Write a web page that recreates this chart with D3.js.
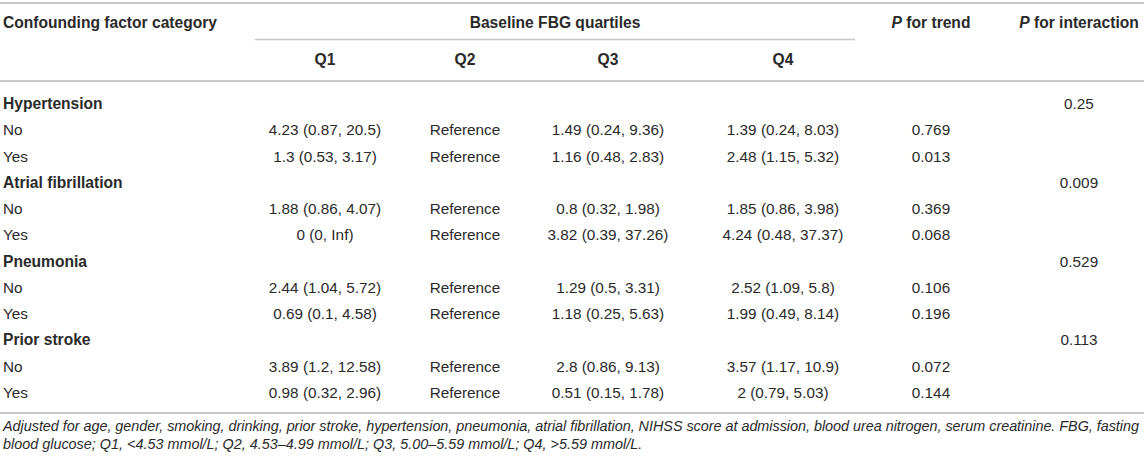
<!DOCTYPE html>
<html>
<head>
<meta charset="utf-8">
<script src="https://cdn.jsdelivr.net/npm/d3@7"></script>
<style>
  html, body { margin: 0; padding: 0; background: #fff; }
  svg text { font-family: "Liberation Sans", Arial, Helvetica, sans-serif; fill: #2a2a2a; }
</style>
</head>
<body>
<div id="table"></div>
<script>
// table data, one array per column
const groups = ["Hypertension", "Atrial fibrillation", "Pneumonia", "Prior stroke"];
const pInteraction = ["0.25", "0.009", "0.529", "0.113"];
const levels = ["No", "Yes"];
const q1 = [
  "4.23 (0.87, 20.5)", "1.3 (0.53, 3.17)",
  "1.88 (0.86, 4.07)", "0 (0, Inf)",
  "2.44 (1.04, 5.72)", "0.69 (0.1, 4.58)",
  "3.89 (1.2, 12.58)", "0.98 (0.32, 2.96)"
];
const q2 = ["Reference", "Reference", "Reference", "Reference", "Reference", "Reference", "Reference", "Reference"];
const q3 = [
  "1.49 (0.24, 9.36)", "1.16 (0.48, 2.83)",
  "0.8 (0.32, 1.98)", "3.82 (0.39, 37.26)",
  "1.29 (0.5, 3.31)", "1.18 (0.25, 5.63)",
  "2.8 (0.86, 9.13)", "0.51 (0.15, 1.78)"
];
const q4 = [
  "1.39 (0.24, 8.03)", "2.48 (1.15, 5.32)",
  "1.85 (0.86, 3.98)", "4.24 (0.48, 37.37)",
  "2.52 (1.09, 5.8)", "1.99 (0.49, 8.14)",
  "3.57 (1.17, 10.9)", "2 (0.79, 5.03)"
];
const pTrend = ["0.769", "0.013", "0.369", "0.068", "0.106", "0.196", "0.072", "0.144"];
const quartileLabels = ["Q1", "Q2", "Q3", "Q4"];
const footnote = [
  "Adjusted for age, gender, smoking, drinking, prior stroke, hypertension, pneumonia, atrial fibrillation, NIHSS score at admission, blood urea nitrogen, serum creatinine. FBG, fasting",
  "blood glucose; Q1, <4.53 mmol/L; Q2, 4.53–4.99 mmol/L; Q3, 5.00–5.59 mmol/L; Q4, >5.59 mmol/L."
];

const width = 1144, height = 462;
const lineColor = "#c8c8c8";

const svg = d3.select("#table")
  .append("svg")
  .attr("width", width)
  .attr("height", height);

// column centres
const colX = d3.scaleOrdinal()
  .domain(["Q1", "Q2", "Q3", "Q4", "trend", "inter"])
  .range([325, 465, 608, 783, 931, 1079]);

// body rows: 3 per group (group title + No + Yes)
const nRows = groups.length * 3;
const rowY = d3.scaleLinear()
  .domain([0, nRows - 1])
  .range([109, 398]);

// rules
const rule = (x1, x2, y, w) => svg.append("line")
  .attr("x1", x1).attr("x2", x2).attr("y1", y).attr("y2", y)
  .attr("stroke", lineColor).attr("stroke-width", w);

rule(0, width, 3, 2);
rule(255, 855, 39.5, 1.5);
rule(0, width, 81, 2);
rule(0, width, 413, 2);

// header
const head = svg.append("g").style("font-weight", "bold").style("font-size", "15.6px");
head.append("text").attr("x", 3).attr("y", 28).text("Confounding factor category");
head.append("text").attr("x", 555).attr("y", 28).attr("text-anchor", "middle").text("Baseline FBG quartiles");

const pHead = head.append("text").attr("x", colX("trend")).attr("y", 28).attr("text-anchor", "middle");
pHead.append("tspan").style("font-style", "italic").text("P");
pHead.append("tspan").text(" for trend");
const pHead2 = head.append("text").attr("x", colX("inter")).attr("y", 28).attr("text-anchor", "middle");
pHead2.append("tspan").style("font-style", "italic").text("P");
pHead2.append("tspan").text(" for interaction");

head.selectAll(".qh")
  .data(quartileLabels)
  .enter()
  .append("text")
  .attr("class", "qh")
  .attr("x", (d) => colX(d))
  .attr("y", 65)
  .attr("text-anchor", "middle")
  .text((d) => d);

// body
const body = svg.append("g").style("font-size", "15.3px");

groups.forEach((g, gi) => {
  const r0 = gi * 3;
  body.append("text")
    .attr("x", 3).attr("y", rowY(r0))
    .style("font-weight", "bold")
    .style("font-size", "15.6px")
    .text(g);
  body.append("text")
    .attr("x", colX("inter")).attr("y", rowY(r0))
    .attr("text-anchor", "middle")
    .text(pInteraction[gi]);

  levels.forEach((lv, li) => {
    const k = gi * 2 + li;
    const y = rowY(r0 + 1 + li);
    body.append("text").attr("x", 3).attr("y", y).text(lv);
    const cells = [["Q1", q1[k]], ["Q2", q2[k]], ["Q3", q3[k]], ["Q4", q4[k]], ["trend", pTrend[k]]];
    body.selectAll(null)
      .data(cells)
      .enter()
      .append("text")
      .attr("x", (d) => colX(d[0]))
      .attr("y", y)
      .attr("text-anchor", "middle")
      .text((d) => d[1]);
  });
});

// footnote, first line justified to the table width
svg.append("g")
  .style("font-size", "14.4px")
  .style("font-style", "italic")
  .selectAll("text")
  .data(footnote)
  .enter()
  .append("text")
  .attr("x", 3)
  .attr("y", (d, i) => 431 + i * 18)
  .each(function (d, i) {
    if (i === 0) d3.select(this).attr("textLength", 1136).attr("lengthAdjust", "spacing");
  })
  .text((d) => d);
</script>
</body>
</html>
